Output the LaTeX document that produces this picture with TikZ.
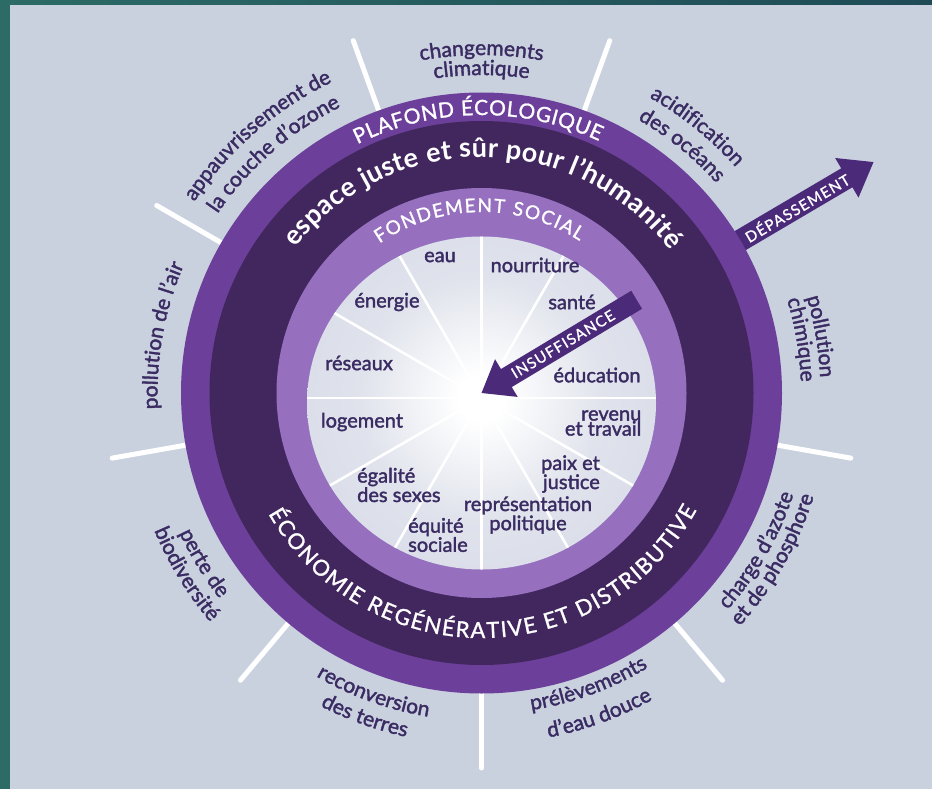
\documentclass[tikz,border=0pt]{standalone}
\usepackage{fontspec}
\setmainfont{Lato}
\newfontfamily\medfont[FakeBold=1.8]{Lato}
\newfontfamily\capfont[FakeBold=1.2]{Lato}
\usetikzlibrary{decorations.text}
\definecolor{teal1}{HTML}{2C6B66}
\definecolor{teal2}{HTML}{1F4B56}
\definecolor{panel}{HTML}{C9D1DF}
\definecolor{ringmid}{HTML}{6C3F9A}
\definecolor{ringdark}{HTML}{42275F}
\definecolor{ringlight}{HTML}{9670BF}
\definecolor{arrowc}{HTML}{4B2A79}
\definecolor{labc}{HTML}{3A2B62}
\definecolor{discedge}{HTML}{CDD2E3}
\definecolor{discmid}{HTML}{E0E3EC}
\pgfdeclareradialshading{glow}{\pgfpoint{0bp}{0bp}}{color(0bp)=(white); color(3bp)=(white); color(16bp)=(discmid); color(44bp)=(discedge); color(50bp)=(discedge)}
\newcommand\olab{\medfont\fontsize{21}{21}\selectfont}
% text centred on an arc; top arcs run clockwise, bottom arcs counter-clockwise
\newcommand\TopArc[6]{%
  \path[decorate,decoration={text along path,text={|#4|#6},text align=center,text color=#5}]
    (#1+#2:#3) arc[start angle=#1+#2,end angle=#1-#2,radius=#3];}
\newcommand\BotArc[6]{%
  \path[decorate,decoration={text along path,text={|#4|#6},text align=center,text color=#5}]
    (#1-#2:#3) arc[start angle=#1-#2,end angle=#1+#2,radius=#3];}
\newcommand\ArcFit[6]{%
  \path[decorate,decoration={text along path,text={|#4|#6},text align={fit to path},text color=#5}]
    (#1:#3) arc[start angle=#1,end angle=#2,radius=#3];}
\begin{document}
\begin{tikzpicture}[x=1pt,y=1pt,
  spokeout/.style={white,line width=5pt,line cap=round},
  spokein/.style={white,line width=2.6pt},
  lab/.style={text=labc,font=\medfont\fontsize{20}{15}\selectfont,inner sep=0pt},
  arrowtext/.style={text=white,font=\capfont\fontsize{15}{15}\selectfont\addfontfeature{LetterSpace=8},inner sep=0pt}]
\useasboundingbox (0,0) rectangle (932,-789);
\shade[left color=teal1,right color=teal2] (0,0) rectangle (932,-789);
\fill[panel] (10,-5) rectangle (932,-789);
\begin{scope}[shift={(481.5,-393)}]
  \coordinate (C) at (0,0);
  % planetary boundary spokes
  \foreach \a in {70,110,150,190,230,270,310,350}
    \draw[spokeout] (\a:296) -- (\a:375);
  % overshoot arrow
  \begin{scope}[rotate=30.5]
    \fill[arrowc] (290,-11) -- (424,-11) -- (424,-23) -- (455,0) -- (424,23) -- (424,11) -- (290,11) -- cycle;
    \node[arrowtext,rotate=30.5] (dep) at (366,0) {DÉPASSEMENT};
  \end{scope}
  % rings
  \fill[ringmid] (C) circle[radius=300.5];
  \fill[ringdark] (C) circle[radius=272];
  \fill[ringlight] (C) circle[radius=205];
  \begin{scope}
    \clip (0,-10) ellipse[x radius=174.5,y radius=166.5];
    \shade[shading=glow] (0,-5) circle[radius=190];
    \foreach \a in {0,30,...,330} \draw[spokein] (0,-5) -- ++(\a:200);
  \end{scope}
  % shortfall arrow
  \begin{scope}[rotate=31]
    \fill[arrowc] (0,0) -- (29,22) -- (29,10.5) -- (181,10.5) -- (181,-10.5) -- (29,-10.5) -- (29,-22) -- cycle;
    \node[arrowtext,rotate=31] (ins) at (95,0) {INSUFFISANCE};
  \end{scope}
  % ring texts
  \ArcFit{116.5}{65}{278}{\capfont\fontsize{21}{21}\selectfont}{white}{PLAFOND ÉCOLOGIQUE}
  \ArcFit{142}{37}{236}{\bfseries\fontsize{27}{27}\selectfont}{white}{espace juste et sûr pour l’humanité}
  \ArcFit{124.3}{57.2}{181}{\capfont\fontsize{19}{19}\selectfont}{white}{FONDEMENT SOCIAL}
  \ArcFit{209.5}{331.5}{245}{\capfont\fontsize{22}{22}\selectfont}{white}{ÉCONOMIE REGÉNÉRATIVE ET DISTRIBUTIVE}
  % planetary boundary labels
  \TopArc{90}{40}{338}{\olab}{labc}{changements}
  \TopArc{90}{40}{318}{\olab}{labc}{climatique}
  \TopArc{131}{40}{345}{\olab}{labc}{appauvrissement de}
  \TopArc{131}{40}{319}{\olab}{labc}{la couche d’ozone}
  \TopArc{51}{40}{340}{\olab}{labc}{acidification}
  \TopArc{51}{40}{315}{\olab}{labc}{des océans}
  \TopArc{9.5}{40}{339}{\olab}{labc}{pollution}
  \TopArc{9.5}{40}{319.5}{\olab}{labc}{chimique}
  \TopArc{169.8}{40}{324}{\olab}{labc}{pollution de l’air}
  \BotArc{-29.7}{40}{328}{\olab}{labc}{charge d’azote}
  \BotArc{-29.7}{40}{348}{\olab}{labc}{et de phosphore}
  \BotArc{-69.9}{40}{321}{\olab}{labc}{prélèvements}
  \BotArc{-69.9}{40}{351}{\olab}{labc}{d’eau douce}
  \BotArc{-109.8}{40}{328}{\olab}{labc}{reconversion}
  \BotArc{-109.8}{40}{352}{\olab}{labc}{des terres}
  \BotArc{-148.5}{40}{333}{\olab}{labc}{perte de}
  \BotArc{-148.5}{40}{355}{\olab}{labc}{biodiversité}
  % social foundation labels
  \node[lab] (eau) at (-41.5,136) {eau};
  \node[lab] (nour) at (53.5,128) {nourriture};
  \node[lab] (sante) at (90.5,91) {santé};
  \node[lab] (educ) at (115.5,18) {éducation};
  \node[lab,align=right,anchor=east] (rev) at (160,-30) {revenu\\et travail};
  \node[lab,align=right,anchor=east] (paix) at (118.5,-81) {paix et\\justice};
  \node[lab,align=center] (repr) at (46.5,-122) {représentation\\politique};
  \node[lab,align=left,anchor=west] (equi) at (-73.5,-142) {équité\\sociale};
  \node[lab,align=left,anchor=west] (egal) at (-124.5,-92) {égalité\\des sexes};
  \node[lab] (loge) at (-119.5,-29) {logement};
  \node[lab] (rese) at (-122.5,30) {réseaux};
  \node[lab] (ener) at (-94.5,91) {énergie};
\end{scope}
\end{tikzpicture}
\end{document}
